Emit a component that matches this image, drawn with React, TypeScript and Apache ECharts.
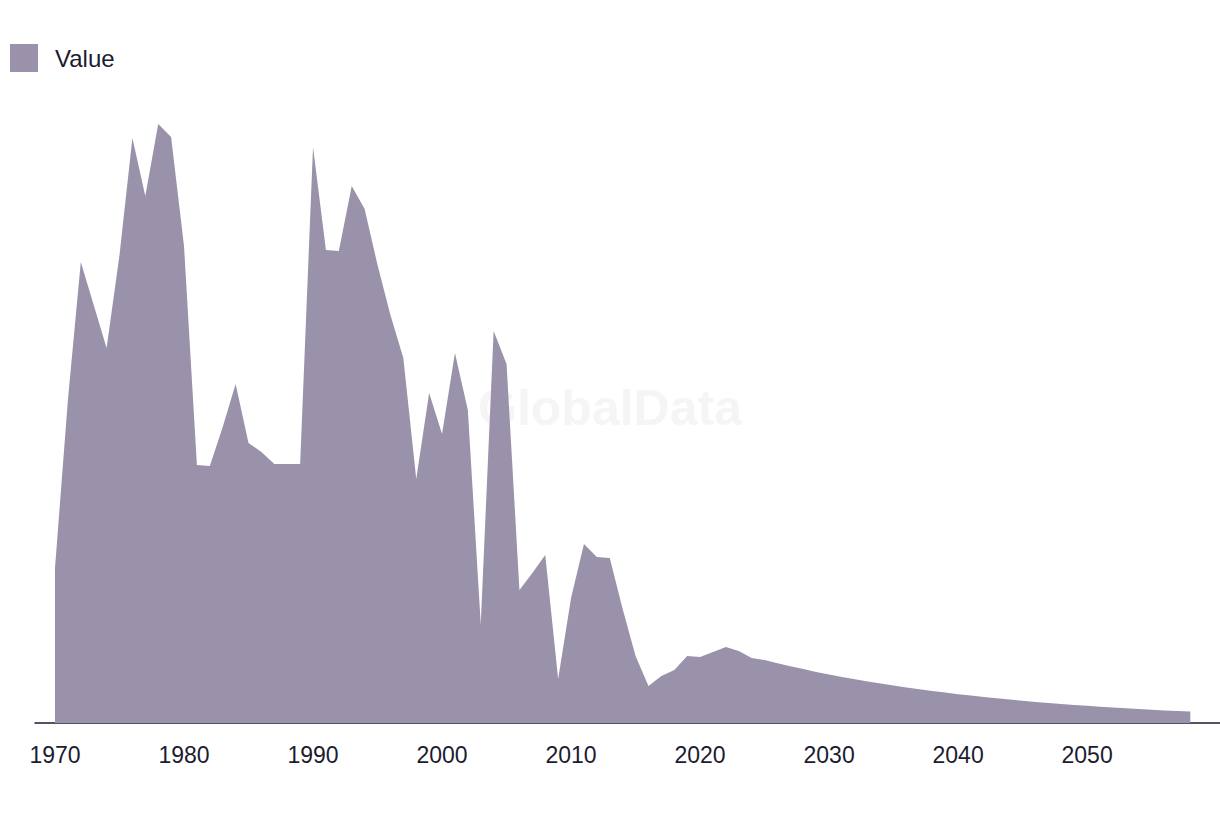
import React, { useEffect, useRef } from "react";
import * as echarts from "echarts";

const years: number[] = [
  1970, 1971, 1972, 1973, 1974, 1975, 1976, 1977, 1978, 1979,
  1980, 1981, 1982, 1983, 1984, 1985, 1986, 1987, 1988, 1989,
  1990, 1991, 1992, 1993, 1994, 1995, 1996, 1997, 1998, 1999,
  2000, 2001, 2002, 2003, 2004, 2005, 2006, 2007, 2008, 2009,
  2010, 2011, 2012, 2013, 2014, 2015, 2016, 2017, 2018, 2019,
  2020, 2021, 2022, 2023, 2024, 2025, 2026, 2027, 2028, 2029,
  2030, 2031, 2032, 2033, 2034, 2035, 2036, 2037, 2038, 2039,
  2040, 2041, 2042, 2043, 2044, 2045, 2046, 2047, 2048, 2049,
  2050, 2051, 2052, 2053, 2054, 2055, 2056, 2057, 2058,
];

const values: number[] = [
  155, 323, 461, 418, 375, 468, 585, 527, 599, 586,
  477, 258, 257, 296, 339, 280, 271, 259, 259, 259,
  576, 473, 472, 537, 514, 458, 408, 365, 244, 330,
  289, 370, 313, 99, 392, 359, 133, 150, 168, 44,
  125, 179, 166, 165, 114, 67, 37, 47, 53, 67,
  66, 71, 76, 72, 65, 63, 59.8, 56.8, 53.9, 51.1,
  48.5, 46.1, 43.7, 41.5, 39.4, 37.4, 35.5, 33.7, 32.0, 30.4,
  28.8, 27.4, 26.0, 24.7, 23.4, 22.2, 21.1, 20.0, 19.0, 18.1,
  17.2, 16.3, 15.5, 14.7, 14.0, 13.3, 12.6, 12.0, 11.4,
];

const tickYears: number[] = [1970, 1980, 1990, 2000, 2010, 2020, 2030, 2040, 2050];

const FONT = "'Liberation Sans', Arial, sans-serif";

export default function App() {
  const ref = useRef<HTMLDivElement>(null);

  useEffect(() => {
    if (!ref.current) return;
    const chart = echarts.init(ref.current, undefined, { renderer: "svg" });
    const data = years.map((y, i) => [y, values[i]]);
    chart.setOption({
      animation: false,
      backgroundColor: "#ffffff",
      textStyle: { fontFamily: FONT },
      graphic: [
        {
          type: "text",
          left: "center",
          top: 383,
          z: 0,
          silent: true,
          style: {
            text: "GlobalData",
            fontFamily: FONT,
            fontWeight: "bold",
            fontSize: 50,
            fill: "#f5f5f5",
          },
        },
      ],
      legend: {
        show: true,
        left: 5,
        top: 39,
        icon: "rect",
        itemWidth: 28,
        itemHeight: 28,
        textStyle: {
          color: "#1c1b2f",
          fontSize: 24,
          fontFamily: FONT,
          padding: [0, 0, 0, 12],
        },
        data: ["Value"],
      },
      grid: { left: 35, right: 0, top: 73, bottom: 93 },
      xAxis: {
        type: "value",
        min: 1968.45,
        max: 2060.3,
        splitLine: { show: false },
        axisTick: { show: false },
        axisLine: { show: true, lineStyle: { color: "#1c1b2f", width: 1.5 } },
        axisLabel: {
          customValues: tickYears,
          color: "#1c1b2f",
          fontSize: 23,
          fontFamily: FONT,
          margin: 20,
          formatter: (v: number) => String(v),
        },
      },
      yAxis: {
        type: "value",
        show: false,
        min: 0,
        max: 650,
        splitLine: { show: false },
      },
      series: [
        {
          name: "Value",
          type: "line",
          data,
          showSymbol: false,
          symbol: "none",
          color: "#9a92aa",
          lineStyle: { width: 0, color: "#9a92aa" },
          areaStyle: { color: "#9a92aa", opacity: 1 },
          z: 3,
        },
      ],
    });
    return () => chart.dispose();
  }, []);

  return (
    <div
      ref={ref}
      style={{ position: "absolute", left: 0, top: 0, width: 1220, height: 816 }}
    />
  );
}
